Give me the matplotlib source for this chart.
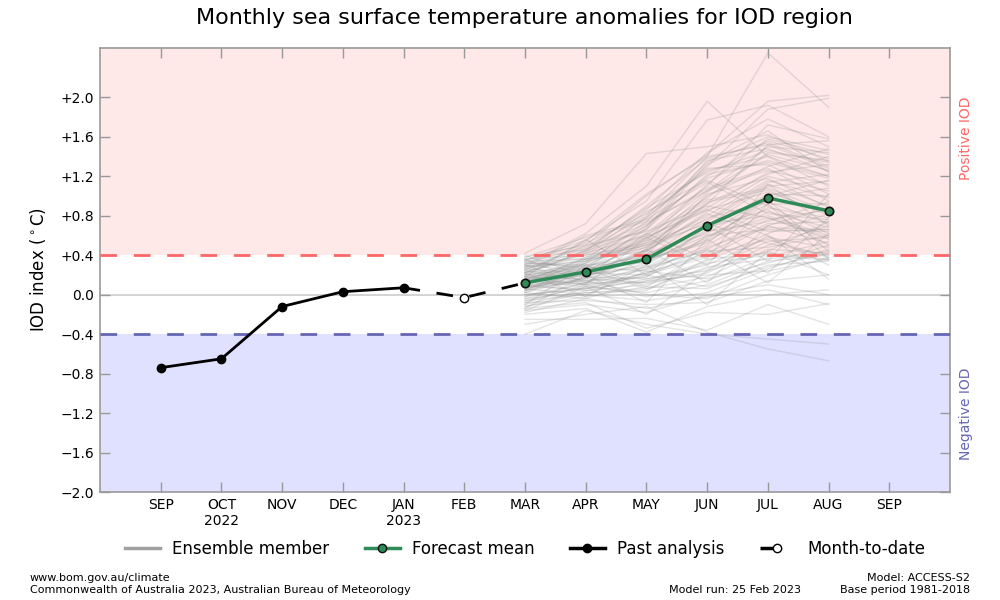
import matplotlib
matplotlib.use('Agg')
import matplotlib.pyplot as plt
from matplotlib.lines import Line2D

month_labels = ['SEP', 'OCT\n2022', 'NOV', 'DEC', 'JAN\n2023', 'FEB', 'MAR', 'APR', 'MAY', 'JUN', 'JUL', 'AUG', 'SEP']
month_pos = list(range(13))
y_ticks = [-2.0, -1.6, -1.2, -0.8, -0.4, 0.0, 0.4, 0.8, 1.2, 1.6, 2.0]
y_labels = ['\u22122.0', '\u22121.6', '\u22121.2', '\u22120.8', '\u22120.4', '0.0',
            '+0.4', '+0.8', '+1.2', '+1.6', '+2.0']

past_x = [0, 1, 2, 3, 4]
past_y = [-0.74, -0.65, -0.12, 0.03, 0.07]
mtd_x = [4, 5, 6]
mtd_y = [0.07, -0.03, 0.12]
mean_x = [6, 7, 8, 9, 10, 11]
mean_y = [0.12, 0.23, 0.36, 0.70, 0.98, 0.85]

# ensemble members, MAR to AUG, read by eye
members = [
    [0.20, 0.45, 0.80, 1.40, 2.45, 1.90],
    [0.30, 0.62, 1.10, 1.96, 1.40, 1.20],
    [0.42, 0.72, 1.43, 1.50, 1.62, 1.35],
    [0.35, 0.55, 0.95, 1.77, 1.92, 1.60],
    [0.25, 0.50, 1.00, 1.42, 1.96, 2.02],
    [0.28, 0.40, 0.78, 1.30, 1.88, 1.99],
    [0.18, 0.36, 0.62, 1.10, 1.72, 1.58],
    [0.32, 0.48, 0.86, 1.44, 1.78, 1.50],
    [0.10, 0.34, 0.70, 1.20, 1.56, 1.38],
    [0.22, 0.44, 0.90, 1.38, 1.54, 1.30],
    [0.38, 0.58, 0.74, 1.05, 1.50, 1.44],
    [0.15, 0.30, 0.55, 1.12, 1.58, 1.42],
    [0.05, 0.26, 0.68, 1.36, 1.48, 1.25],
    [0.26, 0.42, 0.60, 0.98, 1.44, 1.36],
    [0.34, 0.52, 0.82, 1.26, 1.40, 1.10],
    [0.12, 0.38, 0.50, 0.92, 1.52, 1.28],
    [0.20, 0.28, 0.66, 1.22, 1.34, 1.18],
    [0.08, 0.22, 0.46, 1.00, 1.30, 1.48],
    [0.30, 0.46, 0.72, 1.08, 1.28, 0.95],
    [0.16, 0.32, 0.58, 0.88, 1.24, 1.32],
    [0.24, 0.36, 0.44, 0.84, 1.20, 1.05],
    [0.02, 0.18, 0.40, 1.02, 1.18, 0.88],
    [0.36, 0.40, 0.52, 0.76, 1.14, 1.22],
    [0.14, 0.26, 0.34, 0.70, 1.10, 1.15],
    [0.28, 0.34, 0.48, 0.94, 1.06, 0.80],
    [0.06, 0.20, 0.30, 0.66, 1.02, 1.00],
    [0.18, 0.24, 0.42, 0.62, 0.98, 1.08],
    [0.22, 0.30, 0.38, 0.78, 0.94, 0.72],
    [-0.02, 0.12, 0.28, 0.58, 0.92, 0.92],
    [0.12, 0.20, 0.36, 0.54, 0.88, 0.78],
    [0.32, 0.28, 0.24, 0.50, 0.84, 0.68],
    [0.04, 0.16, 0.32, 0.72, 0.80, 0.60],
    [0.16, 0.10, 0.26, 0.46, 0.76, 0.86],
    [-0.06, 0.08, 0.22, 0.42, 0.72, 0.74],
    [0.26, 0.22, 0.20, 0.38, 0.70, 0.52],
    [0.10, 0.14, 0.18, 0.60, 0.66, 0.64],
    [0.00, 0.06, 0.14, 0.34, 0.62, 0.82],
    [0.20, 0.18, 0.16, 0.30, 0.58, 0.48],
    [-0.10, 0.04, 0.10, 0.26, 0.54, 0.58],
    [0.08, 0.12, 0.12, 0.22, 0.50, 0.70],
    [0.34, 0.26, 0.06, 0.18, 0.46, 0.42],
    [-0.04, 0.02, 0.04, 0.36, 0.42, 0.36],
    [0.14, 0.08, 0.02, 0.14, 0.38, 0.54],
    [0.18, 0.10, -0.02, 0.10, 0.34, 0.40],
    [-0.12, -0.02, 0.08, 0.06, 0.30, 0.34],
    [0.06, 0.00, -0.06, 0.02, 0.26, 0.46],
    [0.24, 0.14, 0.00, -0.04, 0.20, 0.38],
    [-0.08, -0.06, -0.10, -0.08, 0.14, 0.20],
    [0.02, -0.04, -0.14, -0.02, 0.05, -0.10],
    [-0.16, -0.10, -0.18, 0.00, 0.10, 0.00],
    [-0.20, -0.14, -0.38, -0.12, 0.00, 0.05],
    [-0.25, -0.25, -0.24, -0.36, -0.10, -0.30],
    [-0.40, -0.16, -0.30, -0.40, -0.45, -0.50],
    [-0.30, -0.20, -0.12, -0.38, -0.55, -0.67],
    [-0.14, -0.08, -0.34, -0.18, -0.20, -0.09],
    [0.10, 0.16, 0.44, 0.82, 0.60, 0.30],
    [0.30, 0.24, 0.54, 0.86, 0.64, 0.66],
    [0.38, 0.50, 0.64, 0.90, 0.78, 0.56],
    [0.28, 0.60, 0.76, 1.14, 0.82, 0.76],
    [0.22, 0.42, 0.84, 1.16, 0.90, 0.62],
    [0.04, 0.32, 0.56, 0.96, 1.08, 0.84],
    [0.12, 0.28, 0.48, 0.80, 1.16, 0.98],
    [0.16, 0.34, 0.60, 1.06, 1.26, 1.12],
    [0.26, 0.38, 0.70, 1.18, 1.36, 1.20],
    [0.06, 0.24, 0.52, 1.04, 1.42, 1.26],
    [0.36, 0.46, 0.88, 1.24, 1.46, 1.34],
    [0.14, 0.36, 0.78, 1.28, 1.32, 1.02],
    [-0.02, 0.18, 0.46, 0.74, 1.12, 0.90],
    [0.20, 0.26, 0.40, 0.68, 0.86, 0.50],
    [0.08, 0.14, 0.26, 0.56, 0.96, 0.44],
    [0.32, 0.30, 0.32, 0.64, 0.74, 0.94],
    [-0.08, 0.10, 0.18, 0.48, 0.68, 0.66],
    [0.00, 0.06, 0.22, 0.40, 0.56, 0.38],
    [0.24, 0.20, 0.28, 0.44, 0.48, 0.60],
    [0.18, 0.16, 0.12, 0.32, 0.40, 0.35],
    [-0.12, 0.02, 0.06, 0.28, 0.36, 0.44],
    [0.10, 0.04, 0.16, 0.24, 0.44, 0.74],
    [-0.04, 0.12, 0.36, 0.52, 1.00, 1.16],
    [0.04, 0.22, 0.44, 0.92, 1.22, 1.40],
    [0.28, 0.44, 0.66, 1.32, 1.60, 1.46],
    [0.12, 0.32, 0.74, 1.34, 1.66, 1.24],
    [0.22, 0.54, 1.02, 1.40, 1.52, 1.56],
    [0.02, 0.26, 0.58, 0.86, 1.04, 0.82],
    [0.16, 0.22, 0.34, 0.60, 0.78, 0.58],
    [0.34, 0.36, 0.50, 0.72, 0.52, 0.40],
    [-0.18, -0.04, 0.14, 0.20, 0.24, 0.36],
    [-0.06, 0.00, 0.24, 0.16, 0.32, 0.50],
    [0.08, 0.06, 0.20, 0.08, 0.28, 0.42],
    [0.30, 0.10, 0.58, 0.30, 0.92, 0.36],
    [-0.14, 0.20, -0.08, 0.56, 0.22, 0.78],
    [0.22, -0.02, 0.30, -0.10, 0.44, 0.20],
    [-0.10, 0.30, 0.08, 0.46, 0.12, 0.62],
    [0.36, 0.12, 0.46, 0.12, 0.70, 0.88],
    [-0.16, 0.08, -0.20, 0.24, 0.60, 0.16],
    [0.40, 0.18, 0.62, 0.36, 1.12, 0.70],
    [0.18, 0.56, 0.20, 0.70, 0.34, 1.02],
]

fig = plt.figure(figsize=(10, 6), dpi=100, facecolor='white')
ax = fig.add_axes([0.1, 0.18, 0.85, 0.74])

ax.axhspan(0.4, 2.5, color='#fee8e8', lw=0, zorder=0)
ax.axhspan(-2.0, -0.4, color='#e0e0ff', lw=0, zorder=0)
ax.axhline(0.0, color='#cccccc', lw=1.2, zorder=1)

for row in members:
    ax.plot(mean_x, row, color='#909090', lw=1.0, alpha=0.24, zorder=2)

ax.axhline(0.4, color='#ff6666', lw=2, dashes=(6, 6), zorder=3)
ax.axhline(-0.4, color='#6666b3', lw=2, dashes=(6, 6), zorder=3)

ax.plot(past_x, past_y, color='black', lw=2, marker='o', ms=6, zorder=5)
ax.plot(mtd_x, mtd_y, color='black', lw=2, dashes=(6, 6), zorder=5)
ax.plot(mtd_x[1], mtd_y[1], color='black', marker='o', mfc='white', ms=6, mew=1, zorder=6)
ax.plot(mean_x, mean_y, color='#2e8b57', lw=2.5, marker='o', mfc='#2e8b57', mec='#111111',
        mew=1.2, ms=6, zorder=7)

ax.set_xlim(-1, 13)
ax.set_ylim(-2.0, 2.5)
ax.set_xticks(month_pos)
ax.set_xticklabels(month_labels, fontsize=10)
ax.set_yticks(y_ticks)
ax.set_yticklabels(y_labels, fontsize=10)
ax.tick_params(direction='in', length=7, width=1, color='#999999', top=True, right=True)
ax.tick_params(axis='x', pad=4.5)
ax.tick_params(axis='y', pad=4)
for s in ax.spines.values():
    s.set_color('#999999')
    s.set_linewidth(1.2)

ax.set_ylabel('IOD index ($^\\circ$C)', fontsize=12, labelpad=9)
fig.text(0.5245, 0.9695, 'Monthly sea surface temperature anomalies for IOD region',
         fontsize=16, ha='center', va='center')

fig.text(0.966, 0.77, 'Positive IOD', color='#ff6666', fontsize=10, rotation=90, ha='center', va='center')
fig.text(0.966, 0.31, 'Negative IOD', color='#6666b3', fontsize=10, rotation=90, ha='center', va='center')

handles = [
    Line2D([], [], color='#a0a0a0', lw=2.5),
    Line2D([], [], color='#2e8b57', lw=2.5, marker='o', mfc='#2e8b57', mec='#111111', ms=6),
    Line2D([], [], color='black', lw=2.5, marker='o', ms=6),
    Line2D([], [], color='black', lw=2.5, marker='o', mfc='white', ms=6, mew=1, dashes=(4, 10)),
]
fig.legend(handles, ['Ensemble member', 'Forecast mean', 'Past analysis', 'Month-to-date'],
           loc='center', bbox_to_anchor=(0.525, 0.0855), ncol=4, frameon=False, fontsize=12,
           handlelength=2.1, handletextpad=0.75, columnspacing=2.1)

fig.text(0.03, 0.0365, 'www.bom.gov.au/climate', fontsize=8, ha='left', va='center')
fig.text(0.03, 0.0165, 'Commonwealth of Australia 2023, Australian Bureau of Meteorology', fontsize=8, ha='left', va='center')
fig.text(0.801, 0.0165, 'Model run: 25 Feb 2023', fontsize=8, ha='right', va='center')
fig.text(0.97, 0.0365, 'Model: ACCESS-S2', fontsize=8, ha='right', va='center')
fig.text(0.97, 0.0165, 'Base period 1981-2018', fontsize=8, ha='right', va='center')

fig.savefig('out.png', dpi=100)
